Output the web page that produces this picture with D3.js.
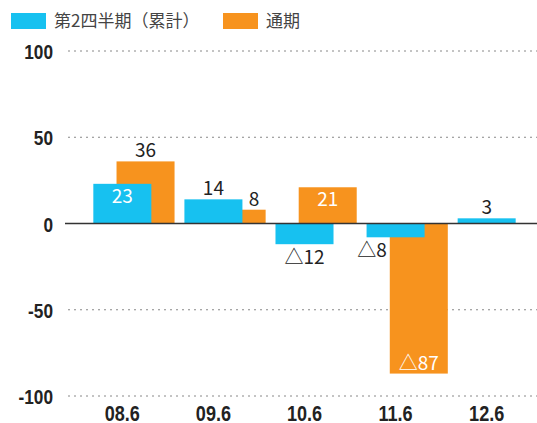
<!DOCTYPE html>
<html>
<head>
<meta charset="utf-8">
<script src="https://cdn.jsdelivr.net/npm/d3@7"></script>
<style>
  body { margin: 0; background: #fff; }
  svg { display: block; }
</style>
</head>
<body>
<div class="chart"></div>
<script>
var categories = ["08.6", "09.6", "10.6", "11.6", "12.6"];
var q2Values = [23, 14, -12, -8, 3];          // 第2四半期（累計）
var fullValues = [36, 8, 21, -87, null];      // 通期
var yTicks = [-100, -50, 0, 50, 100];
var seriesNames = ["第2四半期（累計）", "通期"];

var blue = "#17c1f0";
var orange = "#f7931e";
var numFont = "'Liberation Sans', Arial, sans-serif";
var lblFont = "'Noto Sans CJK JP', 'Noto Sans', sans-serif";

var width = 537, height = 423;

var svg = d3.select(".chart")
    .append("svg")
    .attr("width", width)
    .attr("height", height)

var x = d3.scaleBand()
    .domain(categories)
    .range([66, 543])
    .paddingInner(0.363)
    .paddingOuter(0.3)

var bw = x.bandwidth();
var shift = bw * 0.4;

var y = d3.scaleLinear()
    .domain([-100, 100])
    .range([396, 51])

// squeeze bold numbers to look like a condensed face,
// keeping the text anchored where the axis put it
function condense(sel) {
    sel.each(function () {
        var t = d3.select(this);
        var w = this.getComputedTextLength();
        var nw = w * 0.82;
        var anchor = t.attr("text-anchor") || window.getComputedStyle(this).textAnchor;
        var x0 = +(t.attr("x") || 0);
        var start = anchor === "end" ? x0 - nw : anchor === "middle" ? x0 - nw / 2 : x0;
        t.attr("text-anchor", "start")
            .attr("x", start)
            .attr("textLength", nw)
            .attr("lengthAdjust", "spacingAndGlyphs")
    });
}

// dotted grid lines
svg.append("g")
    .selectAll("line")
    .data(yTicks.filter(function (d) { return d !== 0; }))
    .join("line")
    .attr("x1", 68)
    .attr("x2", width)
    .attr("y1", function (d) { return y(d); })
    .attr("y2", function (d) { return y(d); })
    .style("stroke", "#888")
    .style("stroke-width", 1)
    .style("stroke-dasharray", "2,4")

// y axis labels
var yAxis = d3.axisLeft(y).tickValues(yTicks).tickSize(0).tickPadding(0)
    .tickFormat(function (d) { return String(d); });
var gy = svg.append("g")
    .attr("transform", "translate(53,0)")
    .call(yAxis)
gy.select(".domain").remove();
gy.selectAll("text")
    .attr("dy", "0.36em")
    .attr("text-anchor", "end")
    .style("font-family", numFont)
    .style("font-weight", "bold")
    .style("font-size", "21px")
    .attr("fill", "#222")
    .call(condense)

// orange bars (behind)
var fullData = categories.map(function (c, i) { return { c: c, v: fullValues[i], b: q2Values[i] }; })
    .filter(function (d) { return d.v !== null; });
var q2Data = categories.map(function (c, i) { return { c: c, v: q2Values[i], o: fullValues[i] }; });

svg.append("g")
    .selectAll("rect")
    .data(fullData)
    .join("rect")
    .attr("x", function (d) { return x(d.c) + shift; })
    .attr("width", bw)
    .attr("y", function (d) { return y(Math.max(0, d.v)); })
    .attr("height", function (d) { return Math.abs(y(d.v) - y(0)); })
    .attr("fill", orange)

svg.append("g")
    .selectAll("rect")
    .data(q2Data)
    .join("rect")
    .attr("x", function (d) { return x(d.c); })
    .attr("width", bw)
    .attr("y", function (d) { return y(Math.max(0, d.v)); })
    .attr("height", function (d) { return Math.abs(y(d.v) - y(0)); })
    .attr("fill", blue)

// zero line
svg.append("line")
    .attr("x1", 65)
    .attr("x2", width)
    .attr("y1", y(0))
    .attr("y2", y(0))
    .style("stroke", "#333")
    .style("stroke-width", 1.5)

function fmt(v) { return v < 0 ? "△" + Math.abs(v) : String(v); }

// value labels
var labels = [];
q2Data.forEach(function (d) {
    var h = Math.abs(y(d.v) - y(0));
    var lab = { text: fmt(d.v), x: x(d.c) + bw / 2, anchor: "middle", inside: h >= 30 };
    if (lab.inside) {
        lab.y = d.v > 0 ? y(d.v) + 19 : y(d.v) - 4;
    } else {
        lab.y = d.v > 0 ? y(d.v) - 4 : y(d.v) + 20;
        if (d.o !== null && d.o * d.v > 0 && Math.abs(d.o) > Math.abs(d.v) && d.v < 0) {
            lab.x = x(d.c) + shift - 3;
            lab.anchor = "end";
        }
    }
    labels.push(lab);
});
fullData.forEach(function (d) {
    var sameSide = d.v * d.b > 0;
    var free = sameSide ? Math.abs(y(d.v) - y(d.b)) : Math.abs(y(d.v) - y(0));
    if (sameSide && Math.abs(d.v) < Math.abs(d.b)) free = 0;
    var lab = { text: fmt(d.v), x: x(d.c) + shift + bw / 2, anchor: "middle", inside: free >= 30 };
    if (sameSide && Math.abs(d.v) < Math.abs(d.b)) {
        lab.x = x(d.c) + bw + shift / 2;
    }
    if (lab.inside) {
        lab.y = d.v > 0 ? y(d.v) + 19 : y(d.v) - 4;
    } else {
        lab.y = d.v > 0 ? y(d.v) - 4 : y(d.v) + 20;
    }
    labels.push(lab);
});

svg.append("g")
    .selectAll("text")
    .data(labels)
    .join("text")
    .attr("x", function (d) { return d.x; })
    .attr("y", function (d) { return d.y; })
    .attr("text-anchor", function (d) { return d.anchor; })
    .text(function (d) { return d.text; })
    .style("font-family", lblFont)
    .style("font-size", "19px")
    .attr("fill", function (d) { return d.inside ? "#fff" : "#222"; })

// x axis labels
var xAxis = d3.axisBottom(x).tickSize(0).tickPadding(0);
var gx = svg.append("g")
    .attr("transform", "translate(0,405)")
    .call(xAxis)
gx.select(".domain").remove();
gx.selectAll("text")
    .attr("dy", "0.72em")
    .attr("text-anchor", "middle")
    .style("font-family", numFont)
    .style("font-weight", "bold")
    .style("font-size", "22px")
    .attr("fill", "#222")
    .call(condense)

// legend
var legend = svg.append("g");
var legX = [11, 223];
[blue, orange].forEach(function (col, i) {
    legend.append("rect")
        .attr("x", legX[i])
        .attr("y", 13)
        .attr("width", 35)
        .attr("height", 16)
        .attr("fill", col)
    legend.append("text")
        .attr("x", legX[i] + 43)
        .attr("y", 27)
        .text(seriesNames[i])
        .style("font-family", lblFont)
        .style("font-size", "17px")
        .attr("fill", "#444")
});
</script>
</body>
</html>
